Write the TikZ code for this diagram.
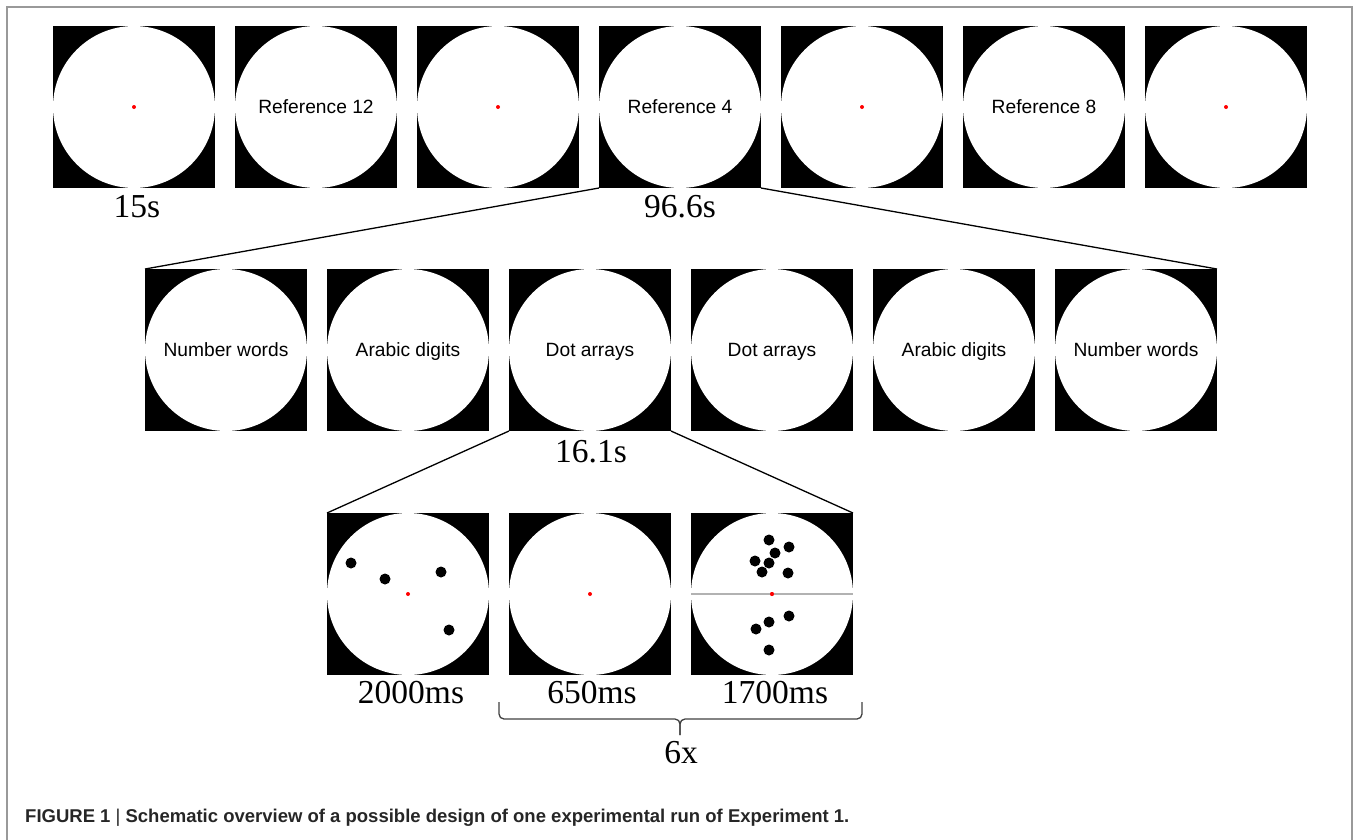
\documentclass[tikz,border=0pt]{standalone}
\usepackage{fontspec}
\setmainfont{Liberation Serif}
\setsansfont{Liberation Sans}
\begin{document}
\begin{tikzpicture}[x=1pt,y=-1pt,
  screen/.style={minimum size=162pt, inner sep=0pt, outer sep=0pt, fill=black,
    text height=13.8pt, text depth=0pt,
    font=\sffamily\fontsize{19.2}{22}\selectfont,
    path picture={\fill[white] (path picture bounding box.center) circle (81pt);}},
  fixscreen/.style={minimum size=162pt, inner sep=0pt, outer sep=0pt, fill=black,
    path picture={\fill[white] (path picture bounding box.center) circle (81pt);
                  \fill[red] (path picture bounding box.center) circle (2pt);}},
  timelbl/.style={anchor=base, inner sep=0pt, font=\rmfamily\fontsize{33.5}{36}\selectfont},
  link/.style={line width=1.3pt, black},
  stimdot/.style={black},
]
\useasboundingbox (0,0) rectangle (1354,839);
\draw[line width=1.5pt, gray!80] (7,845) -- (7,7) -- (1352,7) -- (1352,845);

% top row
\node[fixscreen] (t1) at (134,107) {};
\node[screen] (t2) at (316,107) {Reference 12};
\node[fixscreen] (t3) at (498,107) {};
\node[screen] (t4) at (680,107) {Reference 4};
\node[fixscreen] (t5) at (862,107) {};
\node[screen] (t6) at (1044,107) {Reference 8};
\node[fixscreen] (t7) at (1226,107) {};
\node[timelbl] (l15) at (137,217) {15s};
\node[timelbl] (l96) at (680,217) {96.6s};

% middle row
\node[screen] (m1) at (226,350) {Number words};
\node[screen] (m2) at (408,350) {Arabic digits};
\node[screen] (m3) at (590,350) {Dot arrays};
\node[screen] (m4) at (772,350) {Dot arrays};
\node[screen] (m5) at (954,350) {Arabic digits};
\node[screen] (m6) at (1136,350) {Number words};
\node[timelbl] (l161) at (591,462) {16.1s};

% bottom row
\node[fixscreen] (b1) at (408,594) {};
\node[fixscreen] (b2) at (590,594) {};
\node[fixscreen] (b3) at (772,594) {};
\node[timelbl] (l2000) at (411,703) {2000ms};
\node[timelbl] (l650) at (592,703) {650ms};
\node[timelbl] (l1700) at (775,703) {1700ms};

% stimulus dots
\foreach \p in {(351,563),(385,579),(441,572),(449,630)} \fill[stimdot] \p circle (5.5pt);
\draw[line width=1.5pt, gray!60] (b3.west) -- (b3.east);
\fill[red] (b3.center) circle (2pt);
\foreach \p in {(769,540),(789,547),(775,553),(755,561),(769,563),(762,572),(788,573),
                (789,616),(769,622),(756,629),(769,650)} \fill[stimdot] \p circle (5.5pt);

% zoom connectors
\draw[link] (t4.south west) -- (m1.north west);
\draw[link] (t4.south east) -- (m6.north east);
\draw[link] (m3.south west) -- (b1.north west);
\draw[link] (m3.south east) -- (b3.north east);

% brace
\coordinate (brL) at (499,702);
\coordinate (brR) at (862,702);
\coordinate (brM) at (680,735);
\draw[line width=1.3pt, black!75, rounded corners=5pt] (brL) |- (680,719) -- (brM);
\draw[line width=1.3pt, black!75, rounded corners=5pt] (brR) |- (680,719) -- (brM);
\node[timelbl] (l6x) at (681,763) {6x};

% caption
\node[anchor=base west, inner sep=0pt, text=black!85,
      font=\sffamily\bfseries\fontsize{18.5}{20}\selectfont] (cap) at (25,822)
  {FIGURE 1 {\mdseries|} Schematic overview of a possible design of one experimental run of Experiment 1.};
\end{tikzpicture}
\end{document}
